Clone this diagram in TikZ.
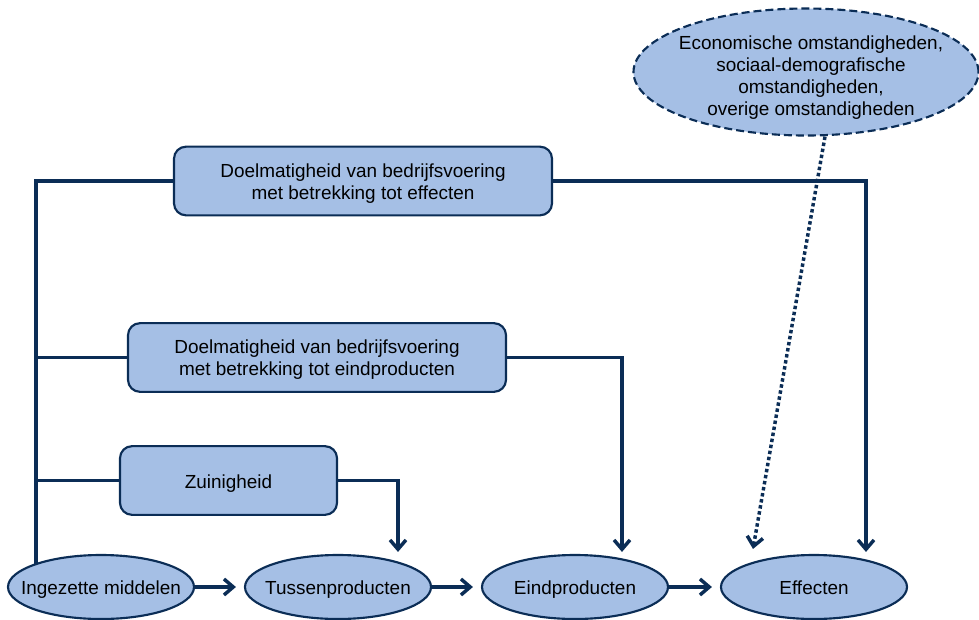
\documentclass[tikz,border=0pt]{standalone}
\usepackage{fontspec}
\setmainfont{Liberation Sans}
\usepackage{xcolor}
\definecolor{navy}{RGB}{11,45,86}
\definecolor{lightblue}{RGB}{165,191,229}
\usepackage{tikz}
\usetikzlibrary{
  calc,
  positioning,
  shapes.geometric,
  backgrounds,
  arrows.meta
}

\newcommand{\lowered}[2]{\raisebox{-#1}[\height][\depth]{#2}}

\begin{document}
\begin{tikzpicture}[
  x=0.75pt, y=-0.75pt,
  font=\fontsize{14.2}{16.5}\selectfont,
  stage/.style={
    ellipse,
    draw=navy,
    line width=1.6pt,
    fill=lightblue,
    minimum width=139.5pt,
    minimum height=48pt,
    inner sep=0pt,
    text height=14pt,
    text depth=3pt
  },
  aspect/.style={
    rectangle,
    draw=navy,
    line width=1.6pt,
    fill=lightblue,
    rounded corners=9pt,
    minimum height=51.5pt,
    align=center
  },
  context/.style={
    ellipse,
    draw=navy,
    line width=1.6pt,
    dash pattern=on 6pt off 3pt,
    fill=lightblue,
    minimum width=258.75pt,
    minimum height=95.25pt,
    inner sep=0pt
  },
  link/.style={draw=navy, line width=2.6pt},
  arr/.style={link, -{Straight Barb[length=7pt,width=12pt]}}
]

\useasboundingbox (0,0) rectangle (979,619);

  % chain of stages
  \node[stage] (ing)  at (101,587) {\makebox[0pt]{Ingezette middelen}};
  \node[stage] (tus)  at (338,587) {\makebox[0pt]{Tussenproducten}};
  \node[stage] (eind) at (575,587) {\makebox[0pt]{Eindproducten}};
  \node[stage] (eff)  at (814,587) {\makebox[0pt]{Effecten}};

  % the three measures
  \node[aspect, minimum width=283.5pt] (effdoel) at (363,181)
  {\lowered{2pt}{\begin{tabular}{@{}c@{}}Doelmatigheid van bedrijfsvoering\\met betrekking tot effecten\end{tabular}}};
  \node[aspect, minimum width=283.5pt] (einddoel) at (317,357.5)
  {\lowered{2pt}{\begin{tabular}{@{}c@{}}Doelmatigheid van bedrijfsvoering\\met betrekking tot eindproducten\end{tabular}}};
  \node[aspect, minimum width=162.75pt] (zuin) at (228.5,480.5)
  {\lowered{2pt}{Zuinigheid}};

  % circumstances
  \node[context] (env) at (806,72)
  {\makebox[0pt]{\hspace*{7.5pt}\lowered{4.5pt}{\begin{tabular}{@{}c@{}}
     Economische omstandigheden,\\sociaal-demografische\\
     omstandigheden,\\overige omstandigheden
   \end{tabular}}}};

  \begin{scope}[on background layer]
    \coordinate (corner) at (36,181);
    \draw[link] (effdoel.west) -- (corner) -- (corner |- ing.center);
    \draw[link] (einddoel.west) -- (corner |- einddoel.west);
    \draw[link] (zuin.west) -- (corner |- zuin.west);
  \end{scope}

  \draw[arr] (effdoel.east) -| ($(eff.north)+(52,-2)$);
  \draw[arr] (einddoel.east) -| ($(eind.north)+(47,-2)$);
  \draw[arr] (zuin.east) -| ($(tus.north)+(60,-2)$);

  \draw[arr, shorten >=6pt] (ing) -- (tus);
  \draw[arr, shorten >=6pt] (tus) -- (eind);
  \draw[arr, shorten >=6pt] (eind) -- (eff);

  \draw[arr, dotted] ($(env.south)+(19,0)$) -- ($(eff.north)+(-61,-5)$);

\end{tikzpicture}
\end{document}
